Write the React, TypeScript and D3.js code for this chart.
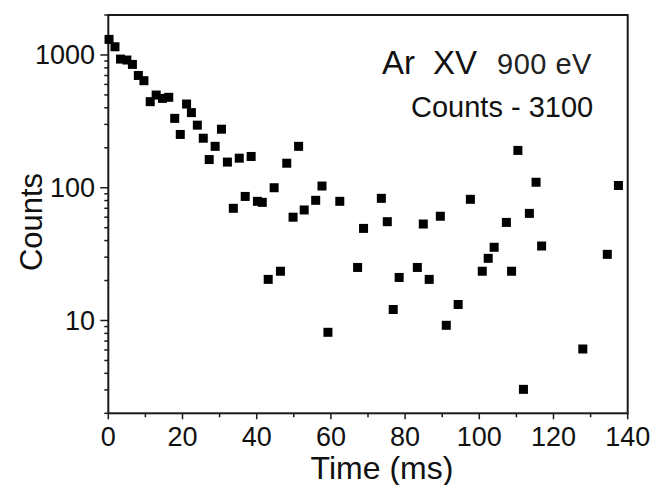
import React from "react";
import * as d3 from "d3";

const times = [0.2, 1.8, 3.3, 5.0, 6.5, 8.1, 9.6, 11.3, 12.9, 14.6, 16.3, 17.9, 19.4, 21.1, 22.4, 24.0, 25.6, 27.2, 28.8, 30.5, 32.1, 33.7, 35.3, 36.9, 38.5, 40.2, 41.5, 43.1, 44.7, 46.4, 48.1, 49.8, 51.3, 52.8, 55.9, 57.6, 59.2, 62.4, 67.2, 68.8, 73.6, 75.2, 76.8, 78.4, 83.3, 84.9, 86.5, 89.5, 91.1, 94.3, 97.6, 100.8, 102.4, 104.0, 107.3, 108.7, 110.4, 111.9, 113.5, 115.3, 116.8, 127.9, 134.5, 137.5];
const counts = [1310, 1153, 931, 916, 849, 701, 640, 445, 499, 471, 480, 333, 252, 427, 368, 296, 236, 163, 205, 276, 156, 70, 167, 86, 172, 79, 77.6, 20.4, 100, 23.5, 153, 60, 205, 68, 80.4, 103, 8.15, 79, 25.1, 49.4, 83.2, 55.5, 12.1, 21.1, 25.1, 53.3, 20.4, 61, 9.2, 13.2, 81.8, 23.5, 29.4, 35.6, 54.8, 23.5, 191, 3.03, 64.1, 110, 36.4, 6.1, 31.5, 104];

const xTicks = [0, 20, 40, 60, 80, 100, 120, 140];
const xMinorTicks = [10, 30, 50, 70, 90, 110, 130];
const yTicks = [10, 100, 1000];
const xDomain = [0, 140];
const yDomain = [2, 2000];

const W = 652;
const H = 485;
const L = 108.3, R = 627.7, T = 15, B = 413.3;
const FONT = "'Liberation Sans', Arial, Helvetica, sans-serif";

export default function App() {
  const x = d3.scaleLinear().domain(xDomain).range([L, R]);
  const y = d3.scaleLog().domain(yDomain).range([B, T]);
  const yMinor: number[] = [];
  for (const d of [1, 10, 100, 1000]) {
    for (let m = 2; m <= 9; m++) {
      const v = d * m;
      if (v >= yDomain[0] && v <= yDomain[1] && !yTicks.includes(v)) yMinor.push(v);
    }
  }
  const sq = 9;
  return (
    <svg width={W} height={H} style={{ position: "absolute", left: 0, top: 0, background: "#fff" }} fontFamily={FONT}>
      <rect x={0} y={0} width={W} height={H} fill="#fff" />
      <rect x={L} y={T} width={R - L} height={B - T} fill="none" stroke="#1a1a1a" strokeWidth={2} />
      {xTicks.map((t) => (
        <g key={"xt" + t}>
          <line x1={x(t)} x2={x(t)} y1={B} y2={B + 6} stroke="#1a1a1a" strokeWidth={1.5} />
          <text x={x(t)} y={446} fontSize={27} textAnchor="middle" fill="#111">{t}</text>
        </g>
      ))}
      {xMinorTicks.map((t) => (
        <line key={"xm" + t} x1={x(t)} x2={x(t)} y1={B} y2={B + 4} stroke="#1a1a1a" strokeWidth={1.5} />
      ))}
      {yTicks.map((t) => (
        <g key={"yt" + t}>
          <line x1={L - 8} x2={L} y1={y(t)} y2={y(t)} stroke="#1a1a1a" strokeWidth={1.5} />
          <text x={95} y={y(t) + 9.5} fontSize={27} textAnchor="end" fill="#111">{t}</text>
        </g>
      ))}
      {yMinor.map((t) => (
        <line key={"ym" + t} x1={L - 4} x2={L} y1={y(t)} y2={y(t)} stroke="#1a1a1a" strokeWidth={1.5} />
      ))}
      {times.map((t, i) => (
        <rect key={"p" + i} x={x(t) - sq / 2} y={y(counts[i]) - sq / 2} width={sq} height={sq} fill="#000" />
      ))}
      <text x={382} y={479} fontSize={32} textAnchor="middle" fill="#111">Time (ms)</text>
      <text transform={`translate(42, 222) rotate(-90)`} fontSize={31} textAnchor="middle" fill="#111">Counts</text>
      <text x={382} y={74} fontSize={33} fill="#111">Ar</text>
      <text x={433} y={74} fontSize={33} fill="#111">XV</text>
      <text x={497} y={74} fontSize={29} letterSpacing={0.5} fill="#222">900 eV</text>
      <text x={411} y={117} fontSize={29} fill="#111">Counts - 3100</text>
    </svg>
  );
}
